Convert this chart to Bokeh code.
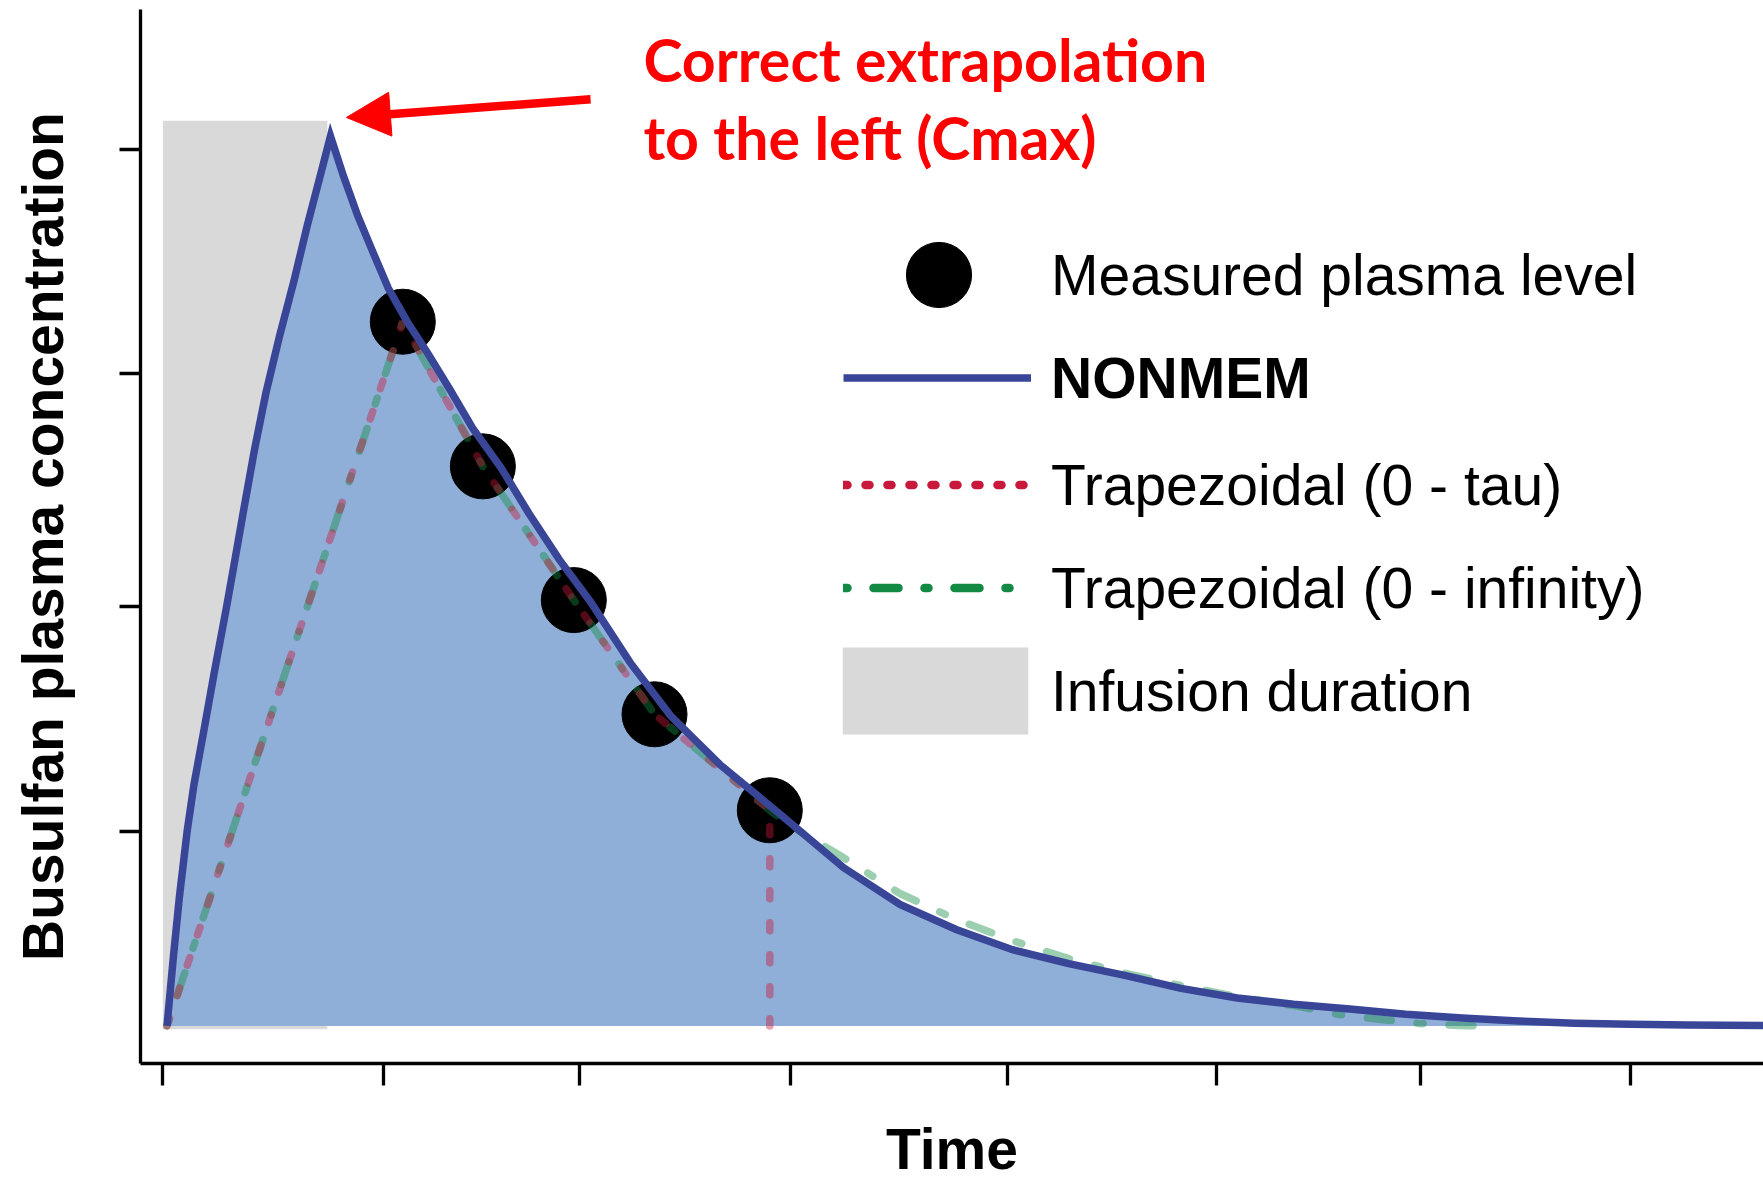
from bokeh.plotting import figure
from bokeh.models import (FixedTicker, CustomJSTickFormatter, Range1d, Legend, LegendItem,
                          Arrow, NormalHead, Label)
from bokeh.embed import file_html
from bokeh.resources import INLINE

NAN = float("nan")

# ---------------- data ----------------
# measured busulfan plasma levels (time, concentration)
point_time = [1.145, 1.527, 1.961, 2.346, 2.896]
point_conc = [3.096, 2.460, 1.872, 1.370, 0.948]

# NONMEM model prediction: rise during the infusion, then elimination
nonmem_time = [0.02, 0.052, 0.079, 0.116, 0.148, 0.197, 0.245, 0.304, 0.343, 0.390,
               0.438, 0.492, 0.556, 0.626, 0.690, 0.760, 0.800,
               0.862, 0.929, 0.996, 1.076, 1.167, 1.264, 1.372, 1.479, 1.613,
               1.747, 1.892, 2.042, 2.230, 2.423, 2.659, 2.933, 3.249, 3.517,
               3.785, 4.054, 4.322, 4.590, 4.858, 5.126, 5.395, 5.663, 5.931,
               6.199, 6.467, 6.736, 7.004, 7.272, 7.637, 7.700]
nonmem_conc = [0.0, 0.318, 0.565, 0.855, 1.057, 1.304, 1.551, 1.841, 2.043, 2.290,
               2.536, 2.783, 3.029, 3.276, 3.522, 3.769, 3.912,
               3.736, 3.564, 3.416, 3.243, 3.095, 2.957, 2.795, 2.627, 2.455,
               2.253, 2.050, 1.863, 1.597, 1.363, 1.148, 0.940, 0.695, 0.534,
               0.424, 0.335, 0.274, 0.222, 0.165, 0.123, 0.095, 0.074, 0.051,
               0.035, 0.022, 0.012, 0.007, 0.004, 0.0015, 0.001]

# extrapolation after the last sample (0 - infinity)
tail_time = [2.981, 3.249, 3.517, 3.785, 4.054, 4.322, 4.590, 4.858, 5.126,
             5.411, 5.604, 5.802, 5.990, 6.183, 6.307]
tail_conc = [0.887, 0.739, 0.582, 0.468, 0.375, 0.296, 0.232, 0.177, 0.128,
             0.087, 0.051, 0.029, 0.011, 0.0015, 0.0]

dose_time = 0.02
infusion_start, infusion_end = 0.0, 0.785
infusion_low, infusion_high = -0.015, 3.98

x_ticks = [0, 1.054, 1.989, 2.997, 4.03, 5.028, 6.002, 7.002]
y_ticks = [0.854, 1.844, 2.868, 3.854]

# ---------------- figure ----------------
p = figure(width=1763, height=1183, output_backend="svg", toolbar_location=None,
           x_range=Range1d(-0.1064, 7.637), y_range=Range1d(-0.1653, 4.4686),
           min_border_left=140, min_border_right=0, min_border_top=9, min_border_bottom=117)
p.grid.visible = False
p.outline_line_color = None
p.background_fill_color = "white"
p.border_fill_color = "white"

for ax in (p.xaxis[0], p.yaxis[0]):
    ax.axis_line_width = 3.3
    ax.axis_line_color = "black"
    ax.major_tick_line_width = 3.3
    ax.major_tick_line_color = "black"
    ax.major_tick_in = 0
    ax.minor_tick_line_color = None
    ax.formatter = CustomJSTickFormatter(code="return ''")
    ax.major_label_standoff = 0
    ax.major_label_text_font_size = "0px"
    ax.axis_label_text_font = "Liberation Sans"
    ax.axis_label_text_font_style = "bold"
    ax.axis_label_text_font_size = "57px"
    ax.axis_label_text_color = "black"

p.xaxis.ticker = FixedTicker(ticks=x_ticks)
p.yaxis.ticker = FixedTicker(ticks=y_ticks)
p.xaxis.major_tick_out = 22
p.yaxis.major_tick_out = 21
p.xaxis.axis_label = "Time"
p.xaxis.axis_label_standoff = 31
p.yaxis.axis_label = "Busulfan plasma concentration"
p.yaxis.axis_label_standoff = 45

# infusion window
infusion = p.quad(left=[infusion_start], right=[infusion_end],
                  bottom=[infusion_low], top=[infusion_high],
                  fill_color="#D9D9D9", line_color=None)

# area under the NONMEM curve
p.varea(x=nonmem_time, y1=[0] * len(nonmem_time), y2=nonmem_conc, fill_color="#90AFD8")

# measured samples
points = p.scatter(point_time, point_conc, size=65, color="black")

# trapezoidal AUC (0 - tau) and (0 - infinity)
tau_x = [dose_time] + point_time + [point_time[-1]]
tau_y = [0.0] + point_conc + [0.0]
inf_x = [dose_time] + point_time + tail_time
inf_y = [0.0] + point_conc + tail_conc

p.line(inf_x, inf_y, line_color="#138A43", line_width=7.5, line_alpha=0.42,
       line_dash="6 26 24 26", line_cap="round")
p.line(tau_x, tau_y, line_color="#C8193C", line_width=7.5, line_alpha=0.42,
       line_dash="8 24", line_cap="round")

# NONMEM fit
nonmem = p.line(nonmem_time, nonmem_conc, line_color="#394597", line_width=7.5,
                line_join="miter")

# legend keys drawn at full opacity (no visible data)
tau_key = p.line([NAN, NAN], [NAN, NAN], line_color="#C8193C", line_width=8.5,
                 line_dash="4 18", line_cap="round")
inf_key = p.line([NAN, NAN], [NAN, NAN], line_color="#138A43", line_width=8.5,
                 line_dash="4 26 25 26", line_cap="round")

common = dict(padding=0, margin=0, border_line_color=None, background_fill_alpha=0,
              label_text_font="Liberation Sans", label_text_font_size="57px",
              label_text_color="black")

leg_points = Legend(items=[LegendItem(label="Measured plasma level", renderers=[points])],
                    location=(717, 707), glyph_width=163, glyph_height=163,
                    label_standoff=31, **common)
leg_model = Legend(items=[LegendItem(label="NONMEM", renderers=[nonmem])],
                   location=(703, 642), glyph_width=188, glyph_height=87,
                   label_standoff=20, label_text_font_style="bold", **common)
leg_trap = Legend(items=[LegendItem(label="Trapezoidal (0 - tau)", renderers=[tau_key]),
                         LegendItem(label="Trapezoidal (0 - infinity)", renderers=[inf_key])],
                  location=(703, 432), glyph_width=188, glyph_height=87, spacing=16,
                  label_standoff=20, **common)
leg_inf = Legend(items=[LegendItem(label="Infusion duration", renderers=[infusion])],
                 location=(679, 318), glyph_width=232, glyph_height=109,
                 label_standoff=0, **common)
for leg in (leg_points, leg_model, leg_trap, leg_inf):
    p.add_layout(leg)

# Cmax annotation
p.add_layout(Arrow(end=NormalHead(size=44, fill_color="#FF0000", line_color="#FF0000"),
                   x_start=2.041, y_start=4.074, x_end=0.876, y_end=3.994,
                   line_color="#FF0000", line_width=8.5))
for txt, yy in (("Correct extrapolation", 4.248), ("to the left (Cmax)", 3.906)):
    p.add_layout(Label(x=2.293, y=yy, text=txt, text_font="Lato", text_font_style="bold",
                       text_font_size="59px", text_color="#FF0000",
                       text_baseline="alphabetic"))

open("out.html", "w").write(file_html(p, INLINE))
